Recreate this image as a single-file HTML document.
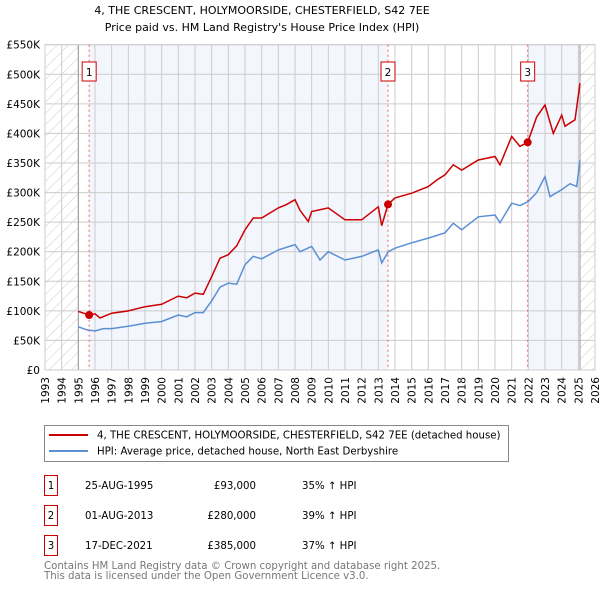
<!DOCTYPE html>
<html><head><meta charset="utf-8"><style>
body{margin:0;background:#fff;font-family:"DejaVu Sans","Liberation Sans",sans-serif;}
svg text{font-family:"DejaVu Sans","Liberation Sans",sans-serif;}
</style></head><body>
<svg id="c" width="600" height="590">
<defs><pattern id="h" width="8" height="8" patternUnits="userSpaceOnUse" patternTransform="rotate(45)"><line x1="0" y1="0" x2="0" y2="8" stroke="#ccc" stroke-width="1"/></pattern></defs>
<text x="262" y="14" text-anchor="middle" font-size="11">4, THE CRESCENT, HOLYMOORSIDE, CHESTERFIELD, S42 7EE</text>
<text x="262" y="31" text-anchor="middle" font-size="11">Price paid vs. HM Land Registry's House Price Index (HPI)</text>
<g id="plot"></g>
<rect x="44.5" y="425.5" width="464" height="36" fill="#fff" stroke="#888"/>
<line x1="49" y1="435" x2="88" y2="435" stroke="#cc0000" stroke-width="2"/>
<text x="97" y="438.5" font-size="10.2">4, THE CRESCENT, HOLYMOORSIDE, CHESTERFIELD, S42 7EE (detached house)</text>
<line x1="49" y1="451" x2="88" y2="451" stroke="#5b8fd4" stroke-width="2"/>
<text x="97" y="454.5" font-size="10.2">HPI: Average price, detached house, North East Derbyshire</text>
<g id="tbl" font-size="10.2"></g>
<text x="44" y="569" font-size="10.2" fill="#777">Contains HM Land Registry data © Crown copyright and database right 2025.</text>
<text x="44" y="579" font-size="10.2" fill="#777">This data is licensed under the Open Government Licence v3.0.</text>
</svg>
<script>
const yTicks=[0,50,100,150,200,250,300,350,400,450,500,550];
const years=[1993,1994,1995,1996,1997,1998,1999,2000,2001,2002,2003,2004,2005,2006,2007,2008,2009,2010,2011,2012,2013,2014,2015,2016,2017,2018,2019,2020,2021,2022,2023,2024,2025,2026];
const hpiT=[1995,1995.5,1996,1996.5,1997,1998,1999,2000,2001,2001.5,2002,2002.5,2003,2003.5,2004,2004.5,2005,2005.5,2006,2007,2008,2008.3,2009,2009.5,2010,2011,2012,2013,2013.2,2013.6,2014,2015,2016,2017,2017.5,2018,2019,2020,2020.3,2021,2021.5,2022,2022.5,2023,2023.3,2024,2024.5,2024.9,2025.1];
const hpiV=[73,68,66,70,70,74,79,82,93,90,97,97,117,140,147,145,178,192,188,203,212,200,209,186,200,186,192,203,181,200,206,215,223,232,248,237,259,262,249,282,278,285,300,327,293,305,315,310,355];
const priceT=[1995,1995.65,1996,1996.3,1997,1998,1999,2000,2001,2001.5,2002,2002.5,2003,2003.5,2004,2004.5,2005,2005.5,2006,2007,2007.5,2008,2008.3,2008.8,2009,2010,2011,2012,2013,2013.2,2013.58,2014,2015,2016,2016.5,2017,2017.5,2018,2019,2020,2020.3,2021,2021.5,2021.96,2022.5,2023,2023.5,2024,2024.2,2024.8,2025.1];
const priceV=[99,93,95,88,96,100,107,111,125,122,130,128,158,189,195,210,237,257,257,274,280,288,270,251,268,274,254,254,276,244,280,291,299,310,321,330,347,338,355,361,347,395,378,385,428,448,400,431,412,423,485];
const saleT=[1995.65,2013.58,2021.96];
const saleV=[93,280,385];
const saleLabels=["1","2","3"];
const saleDates=["25-AUG-1995","01-AUG-2013","17-DEC-2021"];
const salePrices=["£93,000","£280,000","£385,000"];
const saleHpi=["35% ↑ HPI","39% ↑ HPI","37% ↑ HPI"];
const X=t=>45+(t-1993)*(550/33), Y=v=>370-v*(325.3/550);
const NS="http://www.w3.org/2000/svg";
const g=document.getElementById('plot');
function mk(tag,a,p){const e=document.createElementNS(NS,tag);for(const k in a)e.setAttribute(k,a[k]);(p||g).appendChild(e);return e;}
let e;
e=mk('rect',{x:45,y:Y(550),width:550,height:Y(0)-Y(550),fill:'#fff'});


e=mk('rect',{x:45,y:Y(550),width:X(1995)-45,height:Y(0)-Y(550),fill:'url(#h)'});


e=mk('rect',{x:X(2025.1),y:Y(550),width:595-X(2025.1),height:Y(0)-Y(550),fill:'url(#h)'});


[[saleT[0],saleT[1]],[saleT[2],2025.1]].forEach(function(r,i){
 e=mk('rect',{x:X(r[0]),y:Y(550),width:X(r[1])-X(r[0]),height:Y(0)-Y(550),fill:'#f3f6fd'});
 
 
});
years.forEach(function(yr){
 e=mk('line',{x1:X(yr),x2:X(yr),y1:Y(550),y2:Y(0),stroke:'#ccc','stroke-width':1});
 
 
 e=mk('text',{x:0,y:0,'font-size':10.5,'text-anchor':'end',transform:'translate('+(X(yr)+4)+','+(Y(0)+7)+') rotate(-90)'});
 e.textContent=yr;
 
 
});
yTicks.forEach(function(v){
 e=mk('line',{x1:45,x2:595,y1:Y(v),y2:Y(v),stroke:'#ccc','stroke-width':1});
 
 
 e=mk('text',{x:40,y:Y(v)+4,'font-size':10.5,'text-anchor':'end'});
 e.textContent=v===0?'£0':'£'+v+'K';
 
 
});
e=mk('line',{x1:X(1995),x2:X(1995),y1:Y(550),y2:Y(0),stroke:'#999'});


e=mk('line',{x1:X(2025.1),x2:X(2025.1),y1:Y(550),y2:Y(0),stroke:'#999'});


e=mk('rect',{x:45,y:Y(550),width:550,height:Y(0)-Y(550),fill:'none',stroke:'#ccc'});


function pts(T,V){return T.map((t,i)=>X(t).toFixed(1)+','+Y(V[i]).toFixed(1)).join(' ');}
e=mk('polyline',{points:pts(hpiT,hpiV),fill:'none',stroke:'#5b8fd4','stroke-width':1.5});


e=mk('polyline',{points:pts(priceT,priceV),fill:'none',stroke:'#cc0000','stroke-width':1.5});


const tb=document.getElementById('tbl');
saleT.forEach(function(t,i){
 e=mk('line',{x1:X(t),x2:X(t),y1:Y(550),y2:Y(0),stroke:'#f06060','stroke-dasharray':'2,3'});
 
 
 e=mk('rect',{x:X(t)-7,y:62,width:14,height:19,fill:'#fff',stroke:'#cc0000'});
 
 
 e=mk('text',{x:X(t),y:76,'font-size':10.5,'text-anchor':'middle'});
 e.textContent=saleLabels[i];
 
 
 e=mk('circle',{cx:X(t),cy:Y(saleV[i]),r:4,fill:'#cc0000'});
 
 
 const ry=475+i*30;
 e=mk('rect',{x:44.5,y:ry+0.5,width:13,height:20,fill:'#fff',stroke:'#cc0000'},tb);
 
 
 e=mk('text',{x:51,y:ry+14,'text-anchor':'middle'},tb);
 e.textContent=saleLabels[i];
 
 
 e=mk('text',{x:85,y:ry+14},tb);
 e.textContent=saleDates[i];
 
 
 e=mk('text',{x:256,y:ry+14,'text-anchor':'end'},tb);
 e.textContent=salePrices[i];
 
 
 e=mk('text',{x:302,y:ry+14},tb);
 e.textContent=saleHpi[i];
 
 
});
</script>
</body></html>
